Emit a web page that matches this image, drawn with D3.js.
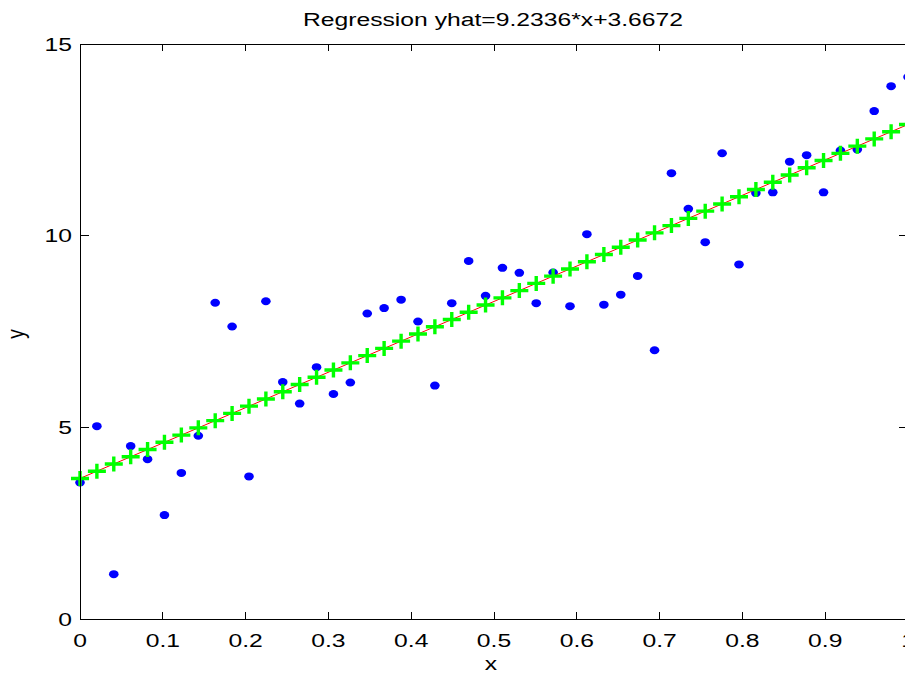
<!DOCTYPE html>
<html>
<head>
<meta charset="utf-8">
<title>Regression</title>
<script src="https://cdn.jsdelivr.net/npm/d3@7/dist/d3.min.js"></script>
<style>
    html, body { margin: 0; padding: 0; background: #fff; }
    #chart { width: 905px; height: 675px; overflow: hidden; }
    text { font-family: "Liberation Sans", Arial, sans-serif; fill: #000; }
</style>
</head>
<body>
<div id="chart"></div>
<script>
// sample positions (50 points between 0 and 1)
var xValues = [0, 0.0204, 0.0408, 0.0612, 0.0816, 0.1020, 0.1224, 0.1429, 0.1633, 0.1837,
    0.2041, 0.2245, 0.2449, 0.2653, 0.2857, 0.3061, 0.3265, 0.3469, 0.3673, 0.3878,
    0.4082, 0.4286, 0.4490, 0.4694, 0.4898, 0.5102, 0.5306, 0.5510, 0.5714, 0.5918,
    0.6122, 0.6327, 0.6531, 0.6735, 0.6939, 0.7143, 0.7347, 0.7551, 0.7755, 0.7959,
    0.8163, 0.8367, 0.8571, 0.8776, 0.8980, 0.9184, 0.9388, 0.9592, 0.9796, 1.0000];

// observed values (blue dots)
var yObserved = [3.56, 5.03, 1.17, 4.51, 4.17, 2.71, 3.81, 4.78, 8.25, 7.63,
    3.72, 8.29, 6.18, 5.62, 6.57, 5.87, 6.17, 7.97, 8.11, 8.33,
    7.76, 6.09, 8.24, 9.34, 8.43, 9.16, 9.03, 8.24, 9.04, 8.16,
    10.04, 8.20, 8.46, 8.95, 7.01, 11.63, 10.70, 9.83, 12.15, 9.25,
    11.11, 11.13, 11.93, 12.10, 11.13, 12.22, 12.25, 13.25, 13.90, 14.14];

// fitted values yhat (red line + green markers)
var yFitted = [3.667, 3.856, 4.044, 4.233, 4.421, 4.609, 4.798, 4.986, 5.175, 5.363,
    5.552, 5.740, 5.929, 6.117, 6.305, 6.494, 6.682, 6.871, 7.059, 7.248,
    7.436, 7.624, 7.813, 8.001, 8.190, 8.378, 8.567, 8.755, 8.944, 9.132,
    9.320, 9.509, 9.697, 9.886, 10.074, 10.263, 10.451, 10.640, 10.828, 11.016,
    11.205, 11.393, 11.582, 11.770, 11.959, 12.147, 12.335, 12.524, 12.712, 12.901];

var xTicks = [0, 0.1, 0.2, 0.3, 0.4, 0.5, 0.6, 0.7, 0.8, 0.9, 1];
var xTickLabels = ["0", "0.1", "0.2", "0.3", "0.4", "0.5", "0.6", "0.7", "0.8", "0.9", "1"];
var yTicks = [0, 5, 10, 15];
var yTickLabels = ["0", "5", "10", "15"];

var titleText = "Regression yhat=9.2336*x+3.6672";

var config = {
    width: 905,
    height: 675,
    left: 80,
    right: 908,
    top: 44,
    bottom: 619,
    fontSize: 19,
    stretch: 1.3   // the picture is wider than tall, so text is stretched sideways
};

var svg = d3.select("#chart").append("svg")
    .attr("width", config.width)
    .attr("height", config.height);

var x = d3.scaleLinear().domain([0, 1]).range([config.left, config.right]);
var y = d3.scaleLinear().domain([0, 15]).range([config.bottom, config.top]);

// draws a text stretched horizontally like the source image
function addText(px, py, str, anchor, rotate) {
    var t = "translate(" + px + "," + py + ") scale(" + config.stretch + ",1)";
    if (rotate) t += " rotate(" + rotate + ")";
    return svg.append("g")
        .attr("transform", t)
        .append("text")
        .attr("text-anchor", anchor)
        .style("font-size", config.fontSize + "px")
        .text(str);
}

// blue observed points
svg.append("g").selectAll("ellipse")
    .data(xValues)
    .enter().append("ellipse")
    .attr("cx", function (d) { return x(d); })
    .attr("cy", function (d, i) { return y(yObserved[i]); })
    .attr("rx", 4.8)
    .attr("ry", 4)
    .attr("fill", "#0000ff");

// red regression line
var line = d3.line()
    .x(function (d) { return x(d); })
    .y(function (d, i) { return y(yFitted[i]); });

svg.append("path")
    .datum(xValues)
    .attr("d", line)
    .attr("fill", "none")
    .attr("stroke", "#ff0000")
    .attr("stroke-width", 1);

// green plus markers
svg.append("g").selectAll("path.plus")
    .data(xValues)
    .enter().append("path")
    .attr("class", "plus")
    .attr("d", function (d, i) {
        var cx = x(d), cy = y(yFitted[i]);
        return "M" + (cx - 9) + "," + cy + "H" + (cx + 9) +
            "M" + cx + "," + (cy - 7.5) + "V" + (cy + 7.5);
    })
    .attr("fill", "none")
    .attr("stroke", "#00ff00")
    .attr("stroke-width", 3.4);

// axes box with ticks on all four sides
var axes = svg.append("g")
    .attr("stroke", "#000")
    .attr("stroke-width", 1)
    .attr("fill", "none")
    .attr("shape-rendering", "crispEdges");

axes.append("rect")
    .attr("x", config.left)
    .attr("y", config.top)
    .attr("width", config.right - config.left)
    .attr("height", config.bottom - config.top);

xTicks.forEach(function (t) {
    axes.append("line")
        .attr("x1", x(t)).attr("x2", x(t))
        .attr("y1", config.bottom).attr("y2", config.bottom - 7);
    axes.append("line")
        .attr("x1", x(t)).attr("x2", x(t))
        .attr("y1", config.top).attr("y2", config.top + 7);
});

yTicks.forEach(function (t) {
    axes.append("line")
        .attr("x1", config.left).attr("x2", config.left + 9)
        .attr("y1", y(t)).attr("y2", y(t));
    axes.append("line")
        .attr("x1", config.right).attr("x2", config.right - 9)
        .attr("y1", y(t)).attr("y2", y(t));
});

// tick labels
xTicks.forEach(function (t, i) {
    addText(x(t), 647, xTickLabels[i], "middle");
});
yTicks.forEach(function (t, i) {
    addText(72, y(t) + 6.8, yTickLabels[i], "end");
});

// title and axis labels
addText(493, 26, titleText, "middle");
addText(491, 670, "x", "middle");
addText(24, 334, "y", "middle", -90);
</script>
</body>
</html>
